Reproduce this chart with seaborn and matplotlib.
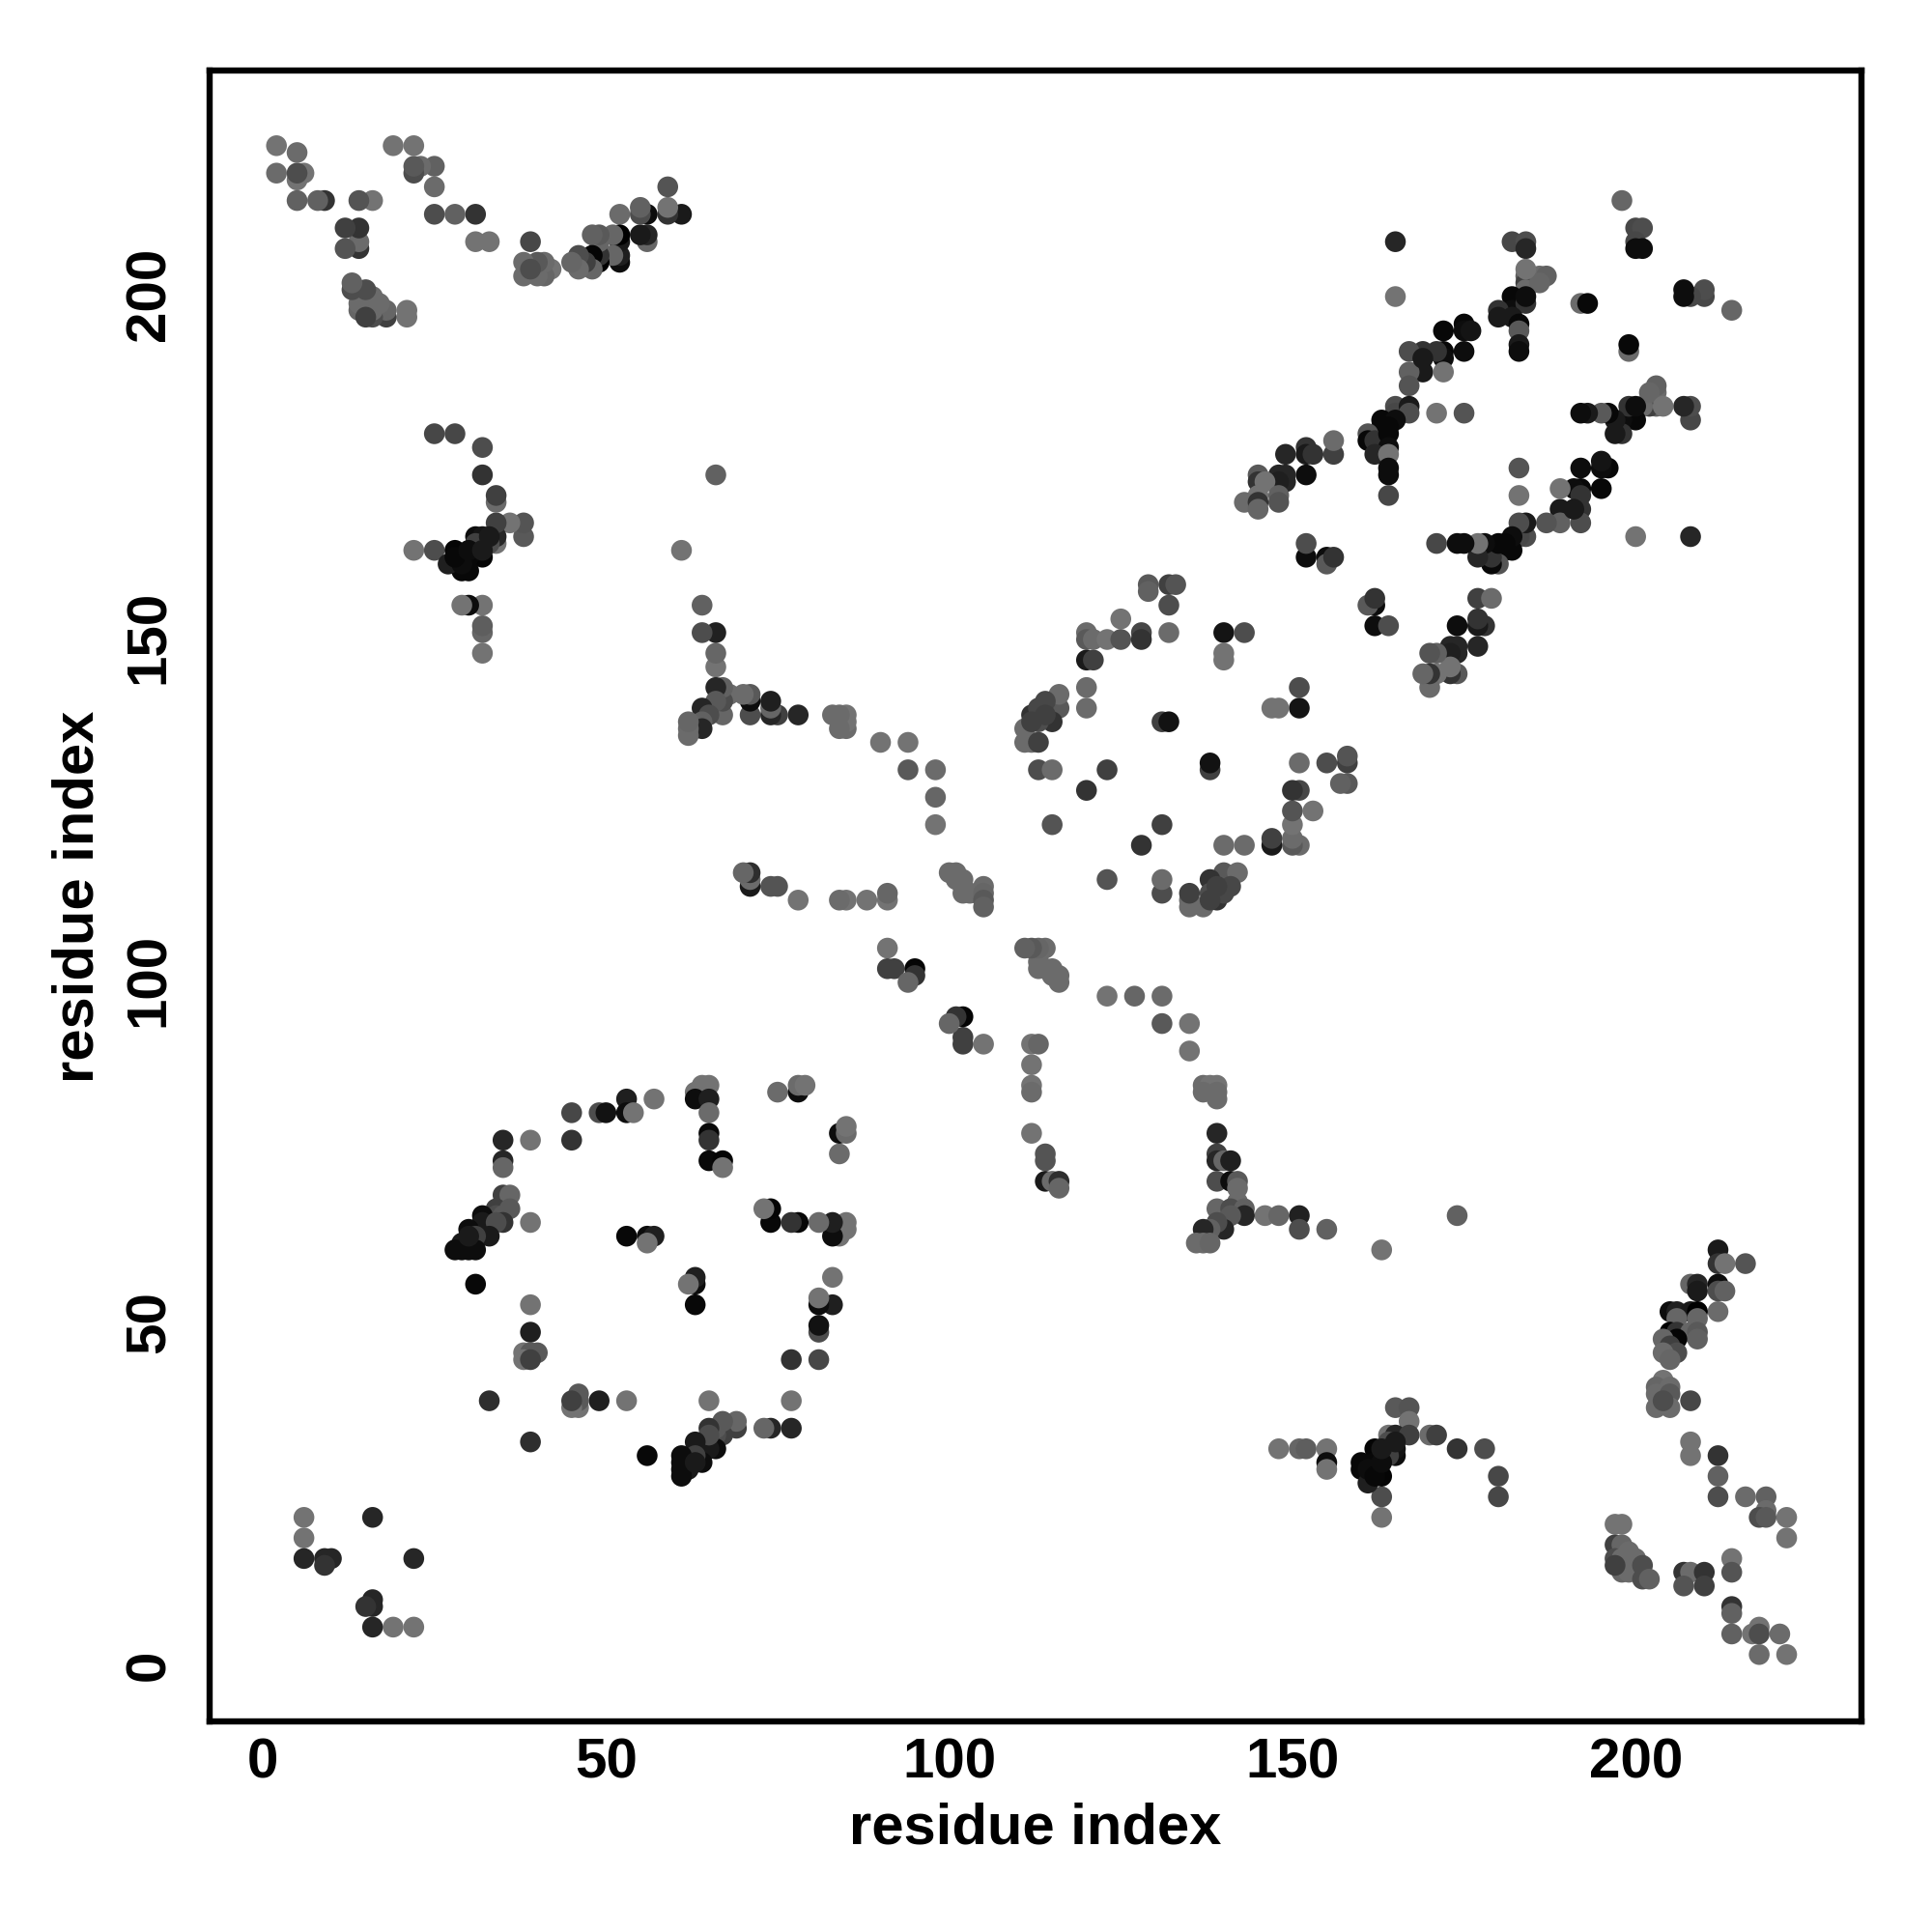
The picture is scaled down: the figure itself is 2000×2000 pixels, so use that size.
import matplotlib
matplotlib.use("Agg")
import matplotlib.pyplot as plt
from matplotlib.transforms import ScaledTranslation
import pandas as pd
import seaborn as sns

# Contacts (residue a, residue b, grey level of the point); the map is symmetric
terminal_contacts = [(6,22,.45),(6,19,.45),(6,16,.15),(9,16,.15),(10,16,.15),(9,15,.2),(16,22,.15)]
c_term_a = [(146,66,.45),(148,66,.4),(151,66,.13),(151,64,.3),(155,64,.38),(174,66,.38),(163,61,.45),
    (165,38,.35),(167,38,.33),(167,36,.45),(164,34,.45),(165,34,.15),(167,34,.25),(170,34,.42),(171,34,.25),
    (174,32,.2),(178,32,.3),(148,32,.45),(151,32,.4),(152,32,.37),(155,32,.45),(155,30,.05),(155,29,.45),
    (180,28,.28),(180,25,.28),(163,25,.3),(163,22,.45),(162,32,.02),(160,30,.03),(160,29,.03),(161,27,.12),
    (163,28,.02),(162,30,.03),(161,29,.05),(162,28,.03),(165,31,.05),(165,32,.08),(164,31,.25),(163,30,.05),
    (164,33,.3),(163,32,.1),(165,33,.1)]
c_term_b = [(212,61,.1),(212,59,.2),(213,59,.45),(216,59,.33),(208,56,.4),(209,56,.15),(209,55,.1),(212,56,.05),
    (212,55,.3),(213,55,.38),(212,52,.42),(205,52,.05),(206,52,.12),(208,52,.1),(209,52,.0),(206,51,.4),(209,51,.4),
    (205,49,.0),(206,49,.2),(208,49,.4),(209,49,.35),(209,48,.38),(206,48,.02),(204,48,.4),(205,47,.25),(206,46,.3),
    (204,46,.42),(205,45,.4),(204,42,.45),(203,41,.4),(205,41,.42),(203,40,.42),(205,40,.35),(203,38,.42),(205,38,.42),
    (204,39,.3),(208,39,.28),(208,33,.45),(208,31,.45),(212,31,.2),(212,28,.38),(212,25,.3),(216,25,.42),(219,25,.38),
    (219,23,.42),(218,22,.3),(219,22,.35),(222,22,.45),(222,19,.45),(197,21,.45),(198,21,.45),(197,18,.25),(198,18,.4),
    (197,16,.3),(198,16,.42),(199,17,.42),(200,16,.42),(198,14,.4),(199,14,.42),(201,15,.3),(201,13,.3),(202,13,.38),
    (197,15,.25),(207,14,.2),(208,14,.42),(210,14,.2),(207,12,.33),(210,12,.25),(214,16,.45),(214,14,.33),(214,9,.2),
    (214,8,.38),(214,5,.38),(217,5,.45),(218,6,.45),(218,5,.3),(221,5,.42),(218,2,.42),(222,2,.45)]
mid_ring = [(129,158,.35),(129,157,.38),(132,158,.25),(133,158,.33),(132,155,.3),(125,153,.45),(120,151,.42),
    (120,150,.35),(121,150,.42),(123,150,.45),(125,150,.33),(128,151,.28),(128,150,.2),(132,151,.42),(140,151,.08),
    (143,151,.3),(140,148,.45),(140,147,.45),(120,147,.1),(121,147,.25),(120,143,.42),(120,140,.42),(116,140,.35),
    (116,142,.42),(114,141,.28),(112,139,.2),(113,140,.28),(115,138,.2),(111,137,.42),(111,135,.42),(112,135,.42),
    (113,135,.25),(113,138,.3),(114,139,.25),(112,138,.25),(113,131,.3),(115,131,.42),(123,131,.25),(120,128,.2),
    (131,138,.25),(132,138,.07),(115,123,.33),(155,162,.05),(155,161,.35),(156,162,.2),(152,162,.05),(152,164,.3)]
near_diagonal = [(100,116,.42),(101,116,.42),(101,115,.42),(102,115,.42),(102,114,.42),(103,113,.42),(104,113,.42),
    (105,114,.42),(105,113,.4),(105,112,.35),(105,111,.38),(102,113,.42),
    (91,105,.45),(91,102,.25),(92,102,.25),(95,102,.02),(95,101,.2),(94,100,.4)]
upper_sheet = [(198,214,.4),(200,210,.28),(201,210,.3),(200,208,.28),(200,207,.05),(201,207,.05),(165,208,.15),
    (182,208,.28),(184,208,.3),(184,207,.15),(165,200,.45),(184,203,.38),(184,202,.25),(184,201,.42),(186,203,.42),
    (187,203,.38),(186,202,.4),(192,199,.42),(193,199,.03),(182,200,.03),(182,198,.05),(184,199,.2),(180,198,.2),
    (180,197,.1),(182,197,.1),(183,196,.03),(183,195,.35),(183,193,.1),(183,192,.05),(184,200,.05),(184,204,.45),
    (175,196,.03),(175,195,.05),(176,195,.08),(172,195,.03),(175,192,.05),(172,192,.03),(172,191,.05),(169,192,.2),
    (167,192,.3),(169,189,.1),(171,192,.2),(172,189,.45),(167,189,.38),(167,187,.33),(169,191,.1),(165,184,.3),
    (165,183,.28),(167,184,.1),(167,183,.3),(171,183,.45),(175,183,.33),(163,182,.03),(165,182,.05),(164,181,.03),
    (163,181,.03),(161,180,.33),(161,179,.03),(162,179,.2),(164,180,.03),(164,178,.05),(162,177,.15),(164,177,.45),
    (164,175,.05),(164,174,.05),(164,171,.28),(156,177,.25),(156,179,.42),(152,178,.2),(152,177,.1),(153,177,.2),
    (149,177,.15),(152,174,.05),(148,174,.15),(149,174,.15),(149,173,.15),(148,173,.12),(145,174,.35),(145,173,.2),
    (146,173,.45),(145,171,.45),(148,171,.38),(148,170,.33),(143,170,.42),(145,170,.2),(145,169,.4)]
long_range = [(123,98,.45),(127,98,.4),(131,98,.42),(131,94,.35),(135,94,.45),(135,90,.45),(137,85,.42),(138,85,.45),
    (139,85,.45),(137,84,.42),(139,84,.42),(139,83,.42),(139,78,.15),(139,75,.25),(139,74,.15),(140,74,.4),(141,74,.12),
    (139,71,.3),(141,71,.05),(142,71,.35),(142,70,.42),(142,68,.42),(139,67,.4),(141,67,.3),(143,67,.38),(143,66,.15),
    (141,66,.35),(140,65,.35),(140,64,.15),(139,65,.3),(138,64,.38),(137,64,.15),(136,62,.42),(137,62,.42),(138,62,.4),
    (112,91,.45),(113,91,.4),(112,88,.45),(112,85,.45),(112,84,.42),(112,78,.45),(114,75,.33),(114,74,.33),(114,71,.1),
    (115,71,.42),(116,71,.18),(116,70,.4)]
low_ring = [(35,77,.15),(39,77,.45),(45,77,.2),(45,81,.28),(49,81,.3),(50,81,.07),(53,83,.12),(53,81,.05),(54,81,.45),
    (57,83,.45),(63,84,.45),(64,85,.45),(65,85,.45),(63,83,.05),(65,83,.12),(65,81,.42),(65,78,.03),(65,77,.2),(65,74,.03),
    (67,74,.02),(67,73,.45),(75,84,.42),(78,84,.05),(78,85,.42),(79,85,.45),(35,74,.15),(35,73,.4),(35,69,.25),(36,69,.4),
    (34,67,.25),(36,67,.35),(34,66,.3),(35,66,.35),(35,65,.2),(32,66,.05),(32,65,.1),(34,65,.3),(30,64,.05),(33,63,.1),
    (31,63,.25),(29,62,.1),(28,61,.05),(29,61,.05),(30,61,.05),(31,61,.05),(30,63,.1),(39,65,.45),(53,63,.03),(56,63,.05),
    (57,63,.12),(56,62,.45),(39,53,.45),(39,49,.12),(38,46,.45),(39,46,.35),(40,46,.35),(38,45,.45),(39,45,.25),(31,56,.03),
    (33,39,.18)]

groups = [terminal_contacts, c_term_a, c_term_b, mid_ring, near_diagonal, upper_sheet, long_range, low_ring]
rows = [c for g in groups for c in g]
a = [r[0] for r in rows]
b = [r[1] for r in rows]
grey = [r[2] for r in rows]
df = pd.DataFrame({"x": a + b, "y": b + a, "grey": grey + grey})

sns.set_theme(style="white")
plt.rcParams["font.family"] = ["Liberation Sans", "DejaVu Sans"]

fig = plt.figure(figsize=(10, 10), dpi=200)
ax = fig.add_axes([217/2000, 1-1782/2000, (1927-217)/2000, (1782-73)/2000])
palette = {g: str(g) for g in sorted(set(grey))}
sns.scatterplot(data=df, x="x", y="y", hue="grey", palette=palette, s=60, linewidth=0,
                legend=False, ax=ax, zorder=3)
ax.set_xlim(-7.74, 232.9)
ax.set_ylim(-7.75, 232.96)
ax.set_xticks([0, 50, 100, 150, 200])
ax.set_yticks([0, 50, 100, 150, 200])
ax.tick_params(axis="x", length=0, labelsize=21, pad=6)
ax.tick_params(axis="y", length=0, labelsize=21, pad=12.5)
for t in ax.get_xticklabels():
    t.set_fontweight("bold"); t.set_color("black")
up = ScaledTranslation(0, 3/200, fig.dpi_scale_trans)
for t in ax.get_yticklabels():
    t.set_fontweight("bold"); t.set_color("black"); t.set_rotation(90); t.set_va("center")
    t.set_transform(t.get_transform() + up)
for s in ax.spines.values():
    s.set_linewidth(2.3); s.set_color("black"); s.set_visible(True)
ax.set_xlabel("")
ax.set_ylabel("")
fig.text(1072/2000, 1-1893/2000, "residue index", fontsize=21.5, fontweight="bold", color="black",
         ha="center", va="center")
fig.text(81/2000, 1-928/2000, "residue index", fontsize=21.5, fontweight="bold", color="black",
         ha="center", va="center", rotation=90)
fig.savefig("out.png", dpi=200)
